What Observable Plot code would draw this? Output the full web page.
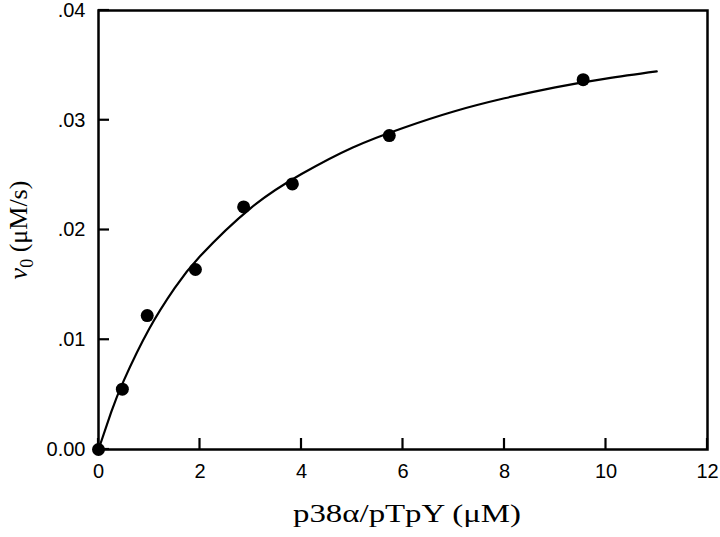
<!DOCTYPE html>
<html><head><meta charset="utf-8">
<script src="https://cdn.jsdelivr.net/npm/d3@7"></script>
<script src="https://cdn.jsdelivr.net/npm/@observablehq/plot@0.6"></script>
<style>body{margin:0;background:#fff}</style>
</head><body><div id="chart"></div>
<script>
const pointX = [0, 0.47, 0.96, 1.91, 2.86, 3.82, 5.73, 9.55];
const pointY = [0, 0.0055, 0.0122, 0.0164, 0.0221, 0.0242, 0.0286, 0.0337];
const curveX = [0, 0.25, 0.5, 1, 1.5, 2, 3, 4, 5, 6, 7, 8, 9, 10, 11];
const curveY = [0, 0.0034, 0.0063, 0.0110, 0.0147, 0.0176, 0.0220, 0.0251, 0.0275, 0.0293, 0.0308, 0.0320, 0.0330, 0.0338, 0.03445];
const xTicks = [0, 2, 4, 6, 8, 10, 12];
const yTicks = [0, 0.01, 0.02, 0.03, 0.04];

const points = pointX.map((x, i) => ({x, y: pointY[i]}));
const curve = curveX.map((x, i) => ({x, y: curveY[i]}));

const W = 720, H = 537, mL = 98, mT = 10, mR = 13, mB = 88;

const plot = Plot.plot({
  width: W, height: H,
  marginLeft: mL, marginTop: mT, marginRight: mR, marginBottom: mB,
  style: {fontFamily: "'Liberation Sans', Arial, sans-serif", fontSize: "20px", background: "#fff"},
  x: {domain: [0, 12], ticks: xTicks},
  y: {domain: [0, 0.04], ticks: yTicks},
  marks: [
    Plot.frame({stroke: "#000", strokeWidth: 2.5}),
    Plot.axisX({ticks: xTicks, tickSize: 0, tickPadding: 14, tickFormat: d => String(d), label: null, fontSize: 20, fill: "#000"}),
    Plot.axisY({ticks: yTicks, tickSize: 0, tickPadding: 13, tickFormat: d => d === 0 ? "0.00" : d3.format(".2f")(d).replace(/^0/, ""), label: null, fontSize: 20, fill: "#000"}),
    Plot.line(curve, {x: "x", y: "y", curve: "natural", stroke: "#000", strokeWidth: 2.2}),
    Plot.dot(points, {x: "x", y: "y", r: 6.5, fill: "#000", stroke: "none"})
  ]
});
document.getElementById("chart").appendChild(plot);

const svg = d3.select(plot);
const sx = plot.scale("x"), sy = plot.scale("y");
const tickLen = 11;
const tg = svg.append("g").attr("stroke", "#000").attr("stroke-width", 2.2);
xTicks.forEach(v => {
  const px = sx.apply(v), py = sy.apply(0);
  tg.append("line").attr("x1", px).attr("x2", px).attr("y1", py).attr("y2", py - tickLen);
});
yTicks.forEach(v => {
  const px = sx.apply(0), py = sy.apply(v);
  tg.append("line").attr("x1", px).attr("x2", px + tickLen).attr("y1", py).attr("y2", py);
});

svg.append("text")
  .attr("x", 407).attr("y", 522)
  .attr("text-anchor", "middle")
  .attr("textLength", 228).attr("lengthAdjust", "spacingAndGlyphs")
  .style("font-family", "'Liberation Serif', 'Times New Roman', serif")
  .style("font-size", "25px")
  .text("p38α/pTpY (μM)");
const yl = svg.append("text")
  .attr("transform", "translate(27,230) rotate(-90)")
  .attr("text-anchor", "middle")
  .style("font-family", "'Liberation Serif', 'Times New Roman', serif")
  .style("font-size", "26px");
yl.append("tspan").style("font-style", "italic").text("v");
yl.append("tspan").attr("dy", 6).style("font-size", "18px").text("0");
yl.append("tspan").attr("dy", -6).text(" (μM/s)");
</script></body></html>
